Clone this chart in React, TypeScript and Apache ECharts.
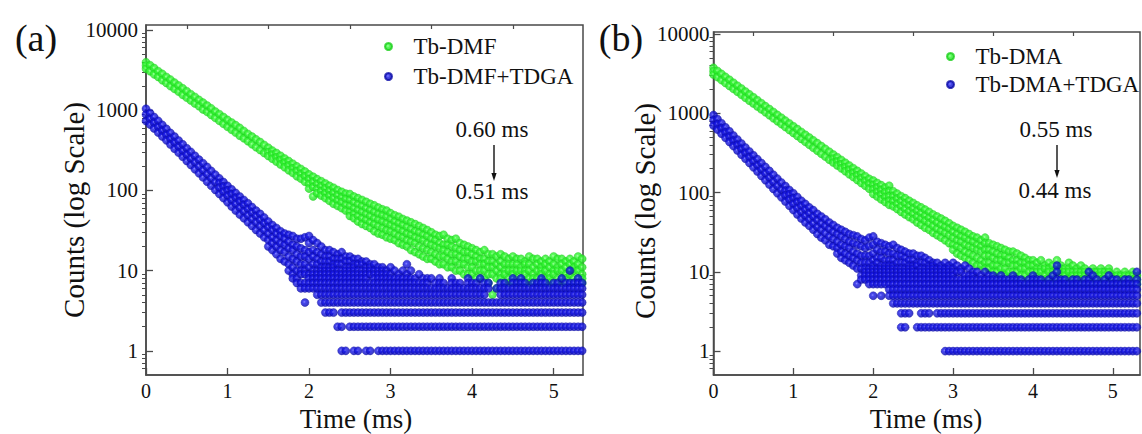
import React, { useEffect, useRef } from "react";
import * as echarts from "echarts";

const SERIF = "Liberation Serif";

// time bins (ms) shared by all decay curves
const timeMs = [
  0, 0.05, 0.1, 0.15, 0.2, 0.25, 0.3, 0.35, 0.4, 0.45,
  0.5, 0.55, 0.6, 0.65, 0.7, 0.75, 0.8, 0.85, 0.9, 0.95,
  1, 1.05, 1.1, 1.15, 1.2, 1.25, 1.3, 1.35, 1.4, 1.45,
  1.5, 1.55, 1.6, 1.65, 1.7, 1.75, 1.8, 1.85, 1.9, 1.95,
  2, 2.05, 2.1, 2.15, 2.2, 2.25, 2.3, 2.35, 2.4, 2.45,
  2.5, 2.55, 2.6, 2.65, 2.7, 2.75, 2.8, 2.85, 2.9, 2.95,
  3, 3.05, 3.1, 3.15, 3.2, 3.25, 3.3, 3.35, 3.4, 3.45,
  3.5, 3.55, 3.6, 3.65, 3.7, 3.75, 3.8, 3.85, 3.9, 3.95,
  4, 4.05, 4.1, 4.15, 4.2, 4.25, 4.3, 4.35, 4.4, 4.45,
  4.5, 4.55, 4.6, 4.65, 4.7, 4.75, 4.8, 4.85, 4.9, 4.95,
  5, 5.05, 5.1, 5.15, 5.2, 5.25, 5.3, 5.35,
];

// counts observed in each time bin (panel a)
const tbDmf = [
  [3950, 3600, 3280], [3620, 3050], [3340, 2790], [3050, 2590], [2830, 2360],
  [2590, 2180], [2400, 1990], [2200, 1840], [2030, 1700], [1870, 1550],
  [1720, 1430], [1580, 1320], [1460, 1210], [1340, 1120], [1240, 1020],
  [1140, 950], [1050, 870], [960, 800], [890, 735], [820, 675],
  [755, 620], [700, 570], [650, 525], [600, 480], [550, 445],
  [505, 410], [468, 375], [432, 345], [400, 318], [368, 292],
  [340, 300, 268], [313, 280, 248], [292, 258, 228], [270, 240, 210], [250, 222, 194],
  [232, 204, 178], [215, 188, 165], [199, 174, 150], [185, 160, 140], [172, 150, 128],
  [158, 138, 120, 105], [148, 128, 110, 84], [138, 120, 104, 92], [130, 113, 98, 86], [122, 106, 92, 80],
  [114, 99, 86, 74], [108, 93, 80, 68], [101, 87, 75, 64], [96, 82, 71, 60], [91, 78, 66, 56],
  [90, 76, 64, 54, 48], [84, 71, 60, 51, 45], [80, 67, 57, 48, 41], [76, 64, 54, 45, 38], [72, 60, 51, 43, 36],
  [68, 57, 48, 40, 34], [65, 54, 45, 38, 31], [61, 51, 43, 36, 29], [58, 49, 41, 34, 28], [56, 47, 39, 32, 26],
  [52, 44, 37, 31, 25], [49, 41, 35, 29, 24], [47, 39, 33, 27, 22], [44, 37, 31, 26, 21], [42, 35, 29, 24, 20],
  [40, 33, 28, 23, 18], [38, 31, 26, 22, 17], [36, 30, 25, 20, 16], [34, 28, 24, 19, 15], [32, 27, 22, 18, 14],
  [30, 25, 21, 17, 14], [28, 24, 20, 16, 13], [27, 22, 19, 15, 12], [28, 21, 18, 15, 12], [25, 21, 17, 14, 11],
  [24, 20, 16, 13, 11], [25, 19, 16, 13, 10], [22, 18, 15, 12, 10], [21, 17, 14, 12, 9], [20, 17, 14, 11, 9],
  [19, 16, 13, 11, 9], [18, 15, 13, 10, 8], [17, 14, 12, 10, 8], [18, 14, 12, 10, 8], [16, 13, 11, 9, 7],
  [16, 13, 11, 9, 5], [15, 12, 10, 8, 6], [16, 13, 11, 9, 8], [15, 12, 10, 9, 7], [14, 12, 10, 8, 7],
  [15, 12, 10, 9, 7], [14, 12, 10, 8, 7], [14, 11, 10, 8, 7], [13, 12, 10, 9, 7], [15, 12, 10, 8, 7],
  [14, 11, 9, 8, 7], [14, 12, 10, 8, 7], [13, 11, 10, 9, 7], [14, 12, 10, 8, 7], [13, 11, 9, 8, 7],
  [15, 12, 10, 9, 7], [14, 11, 10, 8, 7], [14, 12, 10, 8, 7], [13, 11, 9, 8, 7], [14, 12, 10, 9, 7],
  [13, 11, 10, 8, 7], [15, 12, 10, 8, 7], [14, 11, 9, 8, 7],
];

const tbDmfTdga = [
  [1040, 880, 730], [920, 780, 660], [820, 700, 590], [735, 620, 525], [655, 555, 470],
  [585, 495, 420], [520, 440, 372], [468, 395, 330], [418, 352, 295], [375, 312, 262],
  [335, 280, 232], [302, 250, 207], [270, 224, 183], [242, 200, 163], [218, 178, 145],
  [196, 160, 128], [175, 142, 114], [157, 127, 101], [141, 124, 108, 90], [127, 112, 96, 80],
  [114, 100, 86, 71], [103, 90, 76, 63], [93, 81, 68, 56], [84, 73, 61, 50], [76, 66, 55, 45],
  [69, 59, 49, 40], [62, 53, 44, 36], [56, 48, 40, 32], [51, 43, 36, 29], [46, 39, 32, 26],
  [41, 35, 29, 24, 20], [37, 32, 26, 22, 18], [34, 29, 24, 20, 16], [31, 27, 22, 18, 14], [29, 25, 21, 17, 13],
  [28, 23, 19, 15, 12, 10], [27, 21, 18, 14, 11, 9, 8], [25, 20, 16, 13, 10, 8, 7], [25, 19, 15, 12, 10, 9, 7, 6], [26, 18, 15, 12, 10, 9, 7, 6, 4],
  [27, 22, 17, 14, 11, 9, 8, 7, 6], [24, 18, 15, 12, 10, 9, 8, 7, 6], [22, 17, 14, 12, 10, 9, 8, 7, 6, 5], [20, 16, 13, 11, 10, 9, 8, 7, 6, 5, 4], [18, 15, 13, 11, 10, 9, 8, 7, 6, 5, 4, 3],
  [18, 15, 13, 11, 10, 9, 8, 7, 6, 5, 4, 3], [17, 14, 12, 11, 10, 9, 8, 7, 6, 5, 4, 3], [16, 14, 12, 10, 9, 8, 7, 6, 5, 4, 2], [17, 14, 12, 10, 9, 8, 7, 6, 5, 4, 3, 2, 1], [15, 13, 11, 10, 9, 8, 7, 6, 5, 4, 3, 1],
  [15, 13, 11, 10, 9, 8, 7, 6, 5, 4, 3, 2], [14, 12, 11, 10, 9, 8, 7, 6, 5, 4, 3, 2, 1], [14, 12, 10, 9, 8, 7, 6, 5, 4, 3, 2, 1], [13, 12, 10, 9, 8, 7, 6, 5, 4, 3, 2], [13, 11, 10, 9, 8, 7, 6, 5, 4, 3, 2, 1],
  [12, 11, 10, 9, 7, 6, 5, 4, 3, 2, 1], [12, 10, 9, 8, 7, 6, 5, 4, 3, 2], [11, 10, 9, 8, 7, 6, 5, 4, 3, 2, 1], [11, 10, 9, 8, 7, 6, 5, 4, 3, 2, 1], [10, 9, 8, 7, 6, 5, 4, 3, 2, 1],
  [11, 9, 8, 7, 6, 5, 4, 3, 2, 1], [10, 8, 7, 6, 5, 4, 3, 2, 1], [9, 8, 7, 6, 5, 4, 3, 2, 1], [10, 8, 7, 6, 5, 4, 3, 2, 1], [12, 9, 8, 7, 6, 5, 4, 3, 2, 1],
  [10, 8, 7, 6, 5, 4, 3, 2, 1], [8, 7, 6, 5, 4, 3, 2, 1], [9, 7, 6, 5, 4, 3, 2, 1], [8, 7, 6, 5, 4, 3, 2, 1], [8, 7, 6, 5, 4, 3, 2, 1],
  [8, 6, 5, 4, 3, 2, 1], [7, 6, 5, 4, 3, 2, 1], [8, 7, 6, 5, 4, 3, 2, 1], [7, 6, 5, 4, 3, 2, 1], [6, 5, 4, 3, 2, 1],
  [8, 7, 6, 5, 4, 3, 2, 1], [7, 6, 5, 4, 3, 2, 1], [7, 6, 5, 4, 3, 2, 1], [6, 5, 4, 3, 2, 1], [8, 7, 6, 5, 4, 3, 2, 1],
  [7, 6, 5, 4, 3, 2, 1], [7, 6, 5, 4, 3, 2, 1], [8, 6, 5, 4, 3, 2, 1], [7, 6, 5, 4, 3, 2, 1], [7, 6, 4, 3, 2, 1],
  [4, 3, 2, 1], [6, 4, 3, 2, 1], [7, 6, 5, 4, 3, 2, 1], [7, 6, 5, 4, 3, 2, 1], [6, 5, 4, 3, 2, 1],
  [8, 7, 6, 5, 4, 3, 2, 1], [7, 6, 5, 4, 3, 2, 1], [8, 7, 6, 5, 4, 3, 2, 1], [7, 6, 5, 4, 3, 2, 1], [6, 5, 4, 3, 2, 1],
  [7, 6, 5, 4, 3, 2, 1], [7, 6, 5, 4, 3, 2, 1], [8, 7, 6, 5, 4, 3, 2, 1], [7, 6, 5, 4, 3, 2, 1], [6, 5, 4, 3, 2, 1],
  [7, 6, 5, 4, 3, 2, 1], [7, 6, 5, 4, 3, 2, 1], [8, 6, 5, 4, 3, 2, 1], [7, 6, 5, 4, 3, 2, 1], [10, 7, 6, 5, 4, 3, 2, 1],
  [7, 6, 5, 4, 3, 2, 1], [8, 7, 6, 5, 4, 3, 2, 1], [7, 6, 5, 4, 3, 2, 1],
];

// counts observed in each time bin (panel b)
const tbDma = [
  [3750, 3400, 3080], [3420, 2860], [3140, 2620], [2880, 2410], [2650, 2210],
  [2430, 2030], [2230, 1870], [2050, 1710], [1880, 1570], [1730, 1440],
  [1590, 1330], [1460, 1220], [1340, 1120], [1230, 1030], [1130, 945],
  [1040, 865], [955, 795], [880, 730], [808, 670], [745, 615],
  [685, 565], [632, 518], [582, 475], [536, 436], [494, 400],
  [455, 367], [420, 337], [386, 309], [356, 284], [328, 260],
  [302, 268, 239], [279, 247, 220], [258, 228, 202], [238, 210, 186], [220, 194, 170],
  [203, 178, 157], [188, 165, 144], [174, 152, 132], [161, 140, 122], [149, 129, 112],
  [142, 125, 110, 96], [132, 116, 102, 89], [124, 108, 94, 82], [116, 101, 88, 76], [122, 104, 90, 79, 70],
  [104, 90, 78, 67], [97, 84, 72, 62], [90, 78, 67, 57], [85, 73, 62, 53], [79, 68, 58, 49],
  [74, 63, 54, 46], [69, 59, 50, 42], [65, 55, 47, 39], [61, 51, 44, 36], [57, 48, 41, 34],
  [53, 45, 38, 31], [50, 42, 35, 29], [47, 39, 33, 27], [44, 37, 31, 25], [41, 35, 29, 23],
  [38, 32, 27, 22, 19], [36, 30, 25, 21, 17], [34, 28, 24, 20, 16], [32, 27, 22, 18, 15], [30, 25, 21, 17, 14],
  [28, 24, 20, 16, 13], [27, 22, 19, 15, 12], [25, 21, 18, 14, 12], [27, 23, 19, 16, 13, 11], [23, 19, 16, 13, 11],
  [22, 18, 15, 12, 10], [21, 17, 14, 12, 10], [20, 16, 14, 11, 9], [19, 16, 13, 11, 9], [18, 15, 13, 10, 8],
  [18, 14, 12, 10, 8], [17, 14, 12, 10, 8], [16, 13, 11, 9, 7], [15, 13, 11, 9, 7], [14, 12, 10, 8, 7],
  [14, 12, 10, 8, 7], [13, 11, 10, 8, 7], [14, 11, 10, 8, 7], [12, 11, 9, 8, 7], [13, 11, 10, 8, 7],
  [12, 10, 9, 8, 7], [14, 11, 10, 8, 7], [12, 11, 10, 8, 7], [11, 10, 9, 8, 7], [13, 11, 10, 8, 7],
  [12, 10, 9, 8, 7], [11, 10, 9, 8, 7], [12, 10, 9, 8, 7], [11, 10, 9, 8, 7], [10, 9, 8, 7],
  [11, 10, 8, 7], [10, 9, 8, 7], [11, 10, 9, 8, 7], [10, 9, 8, 7], [11, 10, 9, 7],
  [9, 8, 7], [10, 9, 8, 7], [9, 8, 7], [10, 9, 8, 7], [9, 8, 7],
  [10, 9, 8, 7], [9, 8, 7], [10, 9, 8, 7],
];

const tbDmaTdga = [
  [950, 820, 700], [845, 730, 622], [750, 648, 552], [665, 574, 490], [592, 510, 434],
  [525, 452, 385], [467, 400, 340], [416, 355, 300], [370, 316, 267], [330, 280, 236],
  [295, 248, 208], [264, 221, 184], [236, 196, 162], [211, 175, 143], [188, 155, 126],
  [168, 137, 111], [150, 122, 98], [134, 109, 87], [121, 106, 92, 77], [108, 95, 82, 68],
  [98, 85, 72, 60], [88, 76, 64, 53], [79, 68, 57, 47], [72, 61, 51, 42], [65, 55, 46, 38],
  [60, 50, 41, 34], [54, 45, 37, 30], [50, 41, 34, 27], [46, 38, 31, 25], [42, 35, 28, 22],
  [39, 32, 26, 21], [36, 30, 24, 20, 17], [34, 28, 22, 18, 15], [32, 26, 21, 17, 14], [30, 24, 20, 16, 13],
  [29, 23, 18, 15, 12], [28, 22, 17, 14, 11, 7], [26, 21, 16, 13, 11, 9, 8], [25, 20, 16, 13, 11, 10, 9, 8], [27, 21, 16, 13, 11, 10, 9, 8, 7],
  [28, 22, 17, 14, 12, 11, 10, 9, 8, 7, 5], [24, 19, 15, 13, 11, 10, 9, 8, 7], [23, 18, 15, 12, 11, 10, 9, 8, 7, 5], [22, 18, 14, 12, 11, 10, 9, 8, 7], [21, 17, 14, 12, 11, 10, 9, 8, 7, 6, 5],
  [22, 17, 14, 12, 11, 10, 9, 8, 7, 6, 5, 4], [20, 16, 13, 11, 10, 9, 8, 7, 6, 5, 4], [19, 16, 13, 11, 10, 9, 8, 7, 6, 5, 4, 3, 2], [18, 15, 13, 11, 10, 9, 8, 7, 6, 5, 4, 3, 2], [17, 14, 12, 11, 10, 9, 8, 7, 6, 5, 4, 3],
  [17, 14, 12, 11, 10, 9, 8, 7, 6, 5, 4], [16, 13, 12, 10, 9, 8, 7, 6, 5, 4, 2], [16, 13, 11, 10, 9, 8, 7, 6, 5, 4, 3, 2], [15, 13, 11, 10, 9, 8, 7, 6, 5, 4, 3, 2], [14, 12, 11, 10, 9, 8, 7, 6, 5, 4, 3, 2],
  [13, 12, 11, 10, 9, 8, 7, 6, 5, 4, 2], [13, 11, 10, 9, 8, 7, 6, 5, 4, 3, 2], [12, 11, 10, 9, 8, 7, 6, 5, 4, 3, 2], [13, 11, 10, 9, 8, 7, 6, 5, 4, 3, 2, 1], [12, 11, 10, 9, 8, 7, 6, 5, 4, 3, 2, 1],
  [13, 11, 10, 9, 8, 7, 6, 5, 4, 3, 2, 1], [12, 10, 8, 7, 6, 5, 4, 3, 2, 1], [11, 10, 8, 7, 6, 5, 4, 3, 2, 1], [12, 9, 8, 7, 6, 5, 4, 3, 2, 1], [11, 9, 8, 7, 6, 5, 4, 3, 2, 1],
  [10, 9, 8, 7, 6, 5, 4, 3, 2, 1], [10, 8, 7, 6, 5, 4, 3, 2, 1], [9, 8, 7, 6, 5, 4, 3, 2, 1], [10, 8, 7, 6, 5, 4, 3, 2, 1], [9, 8, 7, 6, 5, 4, 3, 2, 1],
  [9, 8, 7, 6, 5, 4, 3, 2, 1], [8, 7, 6, 5, 4, 3, 2, 1], [9, 8, 7, 6, 5, 4, 3, 2, 1], [8, 7, 6, 5, 4, 3, 2, 1], [8, 7, 6, 5, 4, 3, 2, 1],
  [9, 8, 7, 6, 5, 4, 3, 2, 1], [8, 7, 6, 5, 4, 3, 2, 1], [8, 7, 6, 5, 4, 3, 2, 1], [7, 6, 5, 4, 3, 2, 1], [8, 7, 6, 5, 4, 3, 2, 1],
  [9, 8, 7, 6, 5, 4, 3, 2, 1], [8, 7, 6, 5, 4, 3, 2, 1], [8, 7, 6, 5, 4, 3, 2, 1], [7, 6, 5, 4, 3, 2, 1], [8, 7, 6, 5, 4, 3, 2, 1],
  [9, 7, 6, 5, 4, 3, 2, 1], [12, 10, 8, 7, 6, 5, 4, 3, 2, 1], [8, 7, 6, 5, 4, 3, 2, 1], [8, 7, 6, 5, 4, 3, 2, 1], [7, 6, 5, 4, 3, 2, 1],
  [8, 7, 6, 5, 4, 3, 2, 1], [8, 7, 6, 5, 4, 3, 2, 1], [7, 6, 5, 4, 3, 2, 1], [8, 7, 6, 5, 4, 3, 2, 1], [10, 8, 7, 6, 5, 4, 3, 2, 1],
  [9, 7, 6, 5, 4, 3, 2, 1], [8, 7, 6, 5, 4, 3, 2, 1], [7, 6, 5, 4, 3, 2, 1], [8, 7, 6, 5, 4, 3, 2, 1], [9, 7, 6, 5, 4, 3, 2, 1],
  [8, 7, 6, 5, 4, 3, 2, 1], [8, 7, 6, 5, 4, 3, 2, 1], [7, 6, 5, 4, 3, 2, 1], [8, 7, 6, 5, 4, 3, 2, 1], [8, 7, 6, 5, 4, 3, 2, 1],
  [7, 6, 5, 4, 3, 2, 1], [10, 8, 7, 6, 5, 4, 3, 2, 1], [8, 7, 6, 5, 4, 3, 2, 1],
];

const seriesNamesA = ["Tb-DMF", "Tb-DMF+TDGA"];
const seriesNamesB = ["Tb-DMA", "Tb-DMA+TDGA"];
const lifetimesA = ["0.60 ms", "0.51 ms"];
const lifetimesB = ["0.55 ms", "0.44 ms"];
const panelLabels = ["(a)", "(b)"];
const xTitle = "Time (ms)";
const yTitle = "Counts (log Scale)";

const xTickValues = [0, 1, 2, 3, 4, 5];
const xMinorTickValues = [0.5, 1.5, 2.5, 3.5, 4.5];
const yTickValues = [1, 10, 100, 1000, 10000];
const yMinorTickValues = [
  0.6, 0.7, 0.8, 0.9,
  2, 3, 4, 5, 6, 7, 8, 9,
  20, 30, 40, 50, 60, 70, 80, 90,
  200, 300, 400, 500, 600, 700, 800, 900,
  2000, 3000, 4000, 5000, 6000, 7000, 8000, 9000,
];

function toPoints(times: number[], cols: number[][]) {
  const out: number[][] = [];
  cols.forEach((vals, i) => vals.forEach((v) => out.push([times[i], v])));
  return out;
}

const AXIS_COLOR = "#4a4a4a";
const TEXT_COLOR = "#111";

const greenStyle = {
  color: {
    type: "radial", x: 0.42, y: 0.42, r: 0.6,
    colorStops: [
      { offset: 0, color: "#9dff9d" },
      { offset: 0.3, color: "#36fa36" },
      { offset: 1, color: "#1ed81e" },
    ],
  },
  borderColor: "#1ccf1c",
  borderWidth: 0.5,
};
const blueStyle = {
  color: {
    type: "radial", x: 0.42, y: 0.42, r: 0.6,
    colorStops: [
      { offset: 0, color: "#6f6fff" },
      { offset: 0.3, color: "#1818ea" },
      { offset: 1, color: "#0909ad" },
    ],
  },
  borderColor: "#0a0aa8",
  borderWidth: 0.5,
};

const grids = [
  { left: 146, top: 25, width: 437, height: 350 },
  { left: 713.5, top: 32, width: 426.5, height: 343 },
];
const xMax = [5.36, 5.34];
const yMax = [11500, 10600];
const yMin = 0.5;

function buildOption() {
  const xAxis: any[] = [];
  const yAxis: any[] = [];
  [0, 1].forEach((g) => {
    xAxis.push({
      type: "value", gridIndex: g, min: 0, max: xMax[g],
      axisLine: { show: true, lineStyle: { color: AXIS_COLOR, width: 1.5 } },
      axisTick: { show: true, inside: true, length: 7, customValues: xTickValues, lineStyle: { color: AXIS_COLOR, width: 1.3 } },
      axisLabel: { show: true, customValues: xTickValues, margin: 6, fontSize: 20, fontFamily: SERIF, color: TEXT_COLOR, formatter: (v: number) => String(v) },
      splitLine: { show: false },
    });
    yAxis.push({
      type: "log", logBase: 10, gridIndex: g, min: yMin, max: yMax[g],
      axisLine: { show: true, lineStyle: { color: AXIS_COLOR, width: 1.5 } },
      axisTick: { show: true, inside: true, length: 7, customValues: yTickValues, lineStyle: { color: AXIS_COLOR, width: 1.3 } },
      axisLabel: { show: true, customValues: yTickValues, margin: g === 0 ? 8 : 4, fontSize: 21, fontFamily: SERIF, color: TEXT_COLOR, formatter: (v: number) => String(Math.round(v)) },
      splitLine: { show: false },
    });
  });
  [0, 1].forEach((g) => {
    xAxis.push({
      type: "value", gridIndex: g, min: 0, max: xMax[g],
      axisLine: { show: false },
      axisTick: { show: true, inside: true, length: 4, customValues: xMinorTickValues, lineStyle: { color: AXIS_COLOR, width: 1.2 } },
      axisLabel: { show: false },
      splitLine: { show: false },
    });
    yAxis.push({
      type: "log", logBase: 10, gridIndex: g, min: yMin, max: yMax[g],
      axisLine: { show: false },
      axisTick: { show: true, inside: true, length: 4, customValues: yMinorTickValues, lineStyle: { color: AXIS_COLOR, width: 1 } },
      axisLabel: { show: false },
      splitLine: { show: false },
    });
  });

  const scatter = (name: string, g: number, cols: number[][], style: any) => ({
    name, type: "scatter", xAxisIndex: g, yAxisIndex: g,
    data: toPoints(timeMs, cols),
    symbol: "circle", symbolSize: 8, itemStyle: style,
    clip: true, progressive: 0, large: false, silent: true,
  });

  const legendBase = {
    orient: "vertical", icon: "circle", itemWidth: 40, itemHeight: 7, padding: 0,
    selectedMode: false,
    textStyle: { fontSize: 23, fontFamily: SERIF, color: TEXT_COLOR },
  };

  const text = (t: string, x: number, y: number, size: number, rotation = 0) => ({
    type: "text", x, y, rotation, silent: true,
    style: {
      text: t, fill: TEXT_COLOR, fontSize: size, fontFamily: SERIF,
      textAlign: "center", textVerticalAlign: "middle", align: "center", verticalAlign: "middle",
    },
  });
  const arrow = (x: number, y1: number, y2: number) => [
    { type: "line", silent: true, shape: { x1: x, y1, x2: x, y2: y2 - 6 }, style: { stroke: TEXT_COLOR, lineWidth: 1.4 } },
    { type: "polygon", silent: true, shape: { points: [[x - 2.6, y2 - 8], [x + 2.6, y2 - 8], [x, y2]] }, style: { fill: TEXT_COLOR } },
  ];

  return {
    animation: false,
    backgroundColor: "#fff",
    grid: grids.map((g) => ({ ...g, show: true, borderColor: AXIS_COLOR, borderWidth: 1.5, backgroundColor: "transparent", containLabel: false, outerBoundsMode: "none" })),
    xAxis, yAxis,
    legend: [
      { ...legendBase, data: seriesNamesA, left: 384, top: 35, itemGap: 7 },
      { ...legendBase, data: seriesNamesB, left: 946, top: 45, itemGap: 5 },
    ],
    series: [
      scatter(seriesNamesA[0], 0, tbDmf, greenStyle),
      scatter(seriesNamesA[1], 0, tbDmfTdga, blueStyle),
      scatter(seriesNamesB[0], 1, tbDma, greenStyle),
      scatter(seriesNamesB[1], 1, tbDmaTdga, blueStyle),
    ],
    graphic: [
      text(panelLabels[0], 36, 38, 38),
      text(panelLabels[1], 621, 38, 38),
      text(yTitle, 74, 210, 29, Math.PI / 2),
      text(yTitle, 645, 211, 29, Math.PI / 2),
      text(xTitle, 356, 419, 27),
      text(xTitle, 926, 419, 27),
      text(lifetimesA[0], 492, 129, 23),
      text(lifetimesA[1], 492, 191, 23),
      ...arrow(494, 145, 181),
      text(lifetimesB[0], 1056, 129, 23),
      text(lifetimesB[1], 1055, 190, 23),
      ...arrow(1057, 145, 178),
    ],
  };
}

export default function App() {
  const ref = useRef<HTMLDivElement>(null);
  useEffect(() => {
    if (!ref.current) return;
    const chart = echarts.init(ref.current, undefined, { renderer: "svg" });
    chart.setOption(buildOption() as any);
    return () => chart.dispose();
  }, []);
  return (
    <div
      ref={ref}
      style={{ position: "absolute", left: 0, top: 0, width: 1142, height: 434, background: "#fff" }}
    />
  );
}
